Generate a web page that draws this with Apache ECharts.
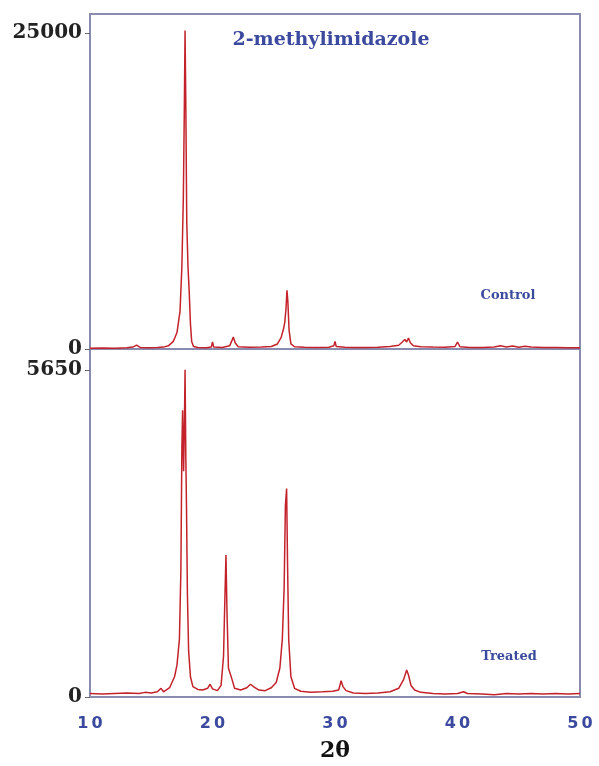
<!DOCTYPE html>
<html lang="en">

<head>
    <meta charset="UTF-8">
    <title>2-methylimidazole XRD</title>
    <script src="https://cdn.jsdelivr.net/npm/echarts@6/dist/echarts.min.js"></script>
    <style>
        body,
        html {
            background-color: #ffffff;
            width: 100%;
            height: 100%;
            margin: 0;
        }
    </style>
</head>

<body>
    <div id="chart" style="width: 599px; height: 766px;"></div>
    <script>
        // 2θ ticks and panel labels
        var xTicks = [10, 20, 30, 40, 50];
        var controlTicks = [0, 25000];
        var treatedTicks = [0, 5650];

        // Control pattern
        var controlX = [10, 11, 12, 13, 13.5, 13.8, 14.1, 14.8, 15.5, 16.0, 16.4, 16.8, 17.1, 17.35, 17.5, 17.62, 17.7, 17.76, 17.82, 17.9,
            18.0, 18.1, 18.2, 18.3, 18.45, 18.8, 19.5, 19.9, 20.0, 20.1, 20.8, 21.4, 21.6, 21.7, 21.85, 22.1, 23.0, 24.0, 24.8, 25.3,
            25.6, 25.8, 25.9, 26.0, 26.08, 26.15, 26.25, 26.4, 26.7, 27.5, 28.5, 29.5, 29.9, 30.0, 30.1, 30.8, 31.5, 32.5, 33.5, 34.5,
            35.2, 35.5, 35.7, 35.85, 36.0, 36.15, 36.4, 37.0, 38.0, 39.0, 39.8, 40.0, 40.2, 41.0, 42.0, 43.0, 43.5, 44.0, 44.5, 45.0,
            45.5, 46.0, 47.0, 48.0, 49.0, 50.0];
        var controlY = [60, 80, 60, 90, 150, 300, 120, 100, 120, 150, 250, 600, 1300, 3000, 6500, 12000, 19000, 25200, 19500, 10000,
            6500, 4500, 2000, 600, 200, 120, 100, 150, 550, 150, 120, 250, 700, 950, 500, 180, 130, 150, 200, 400,
            900, 1600, 2100, 3200, 4650, 3800, 1500, 400, 180, 130, 120, 140, 250, 600, 200, 130, 120, 110, 130, 200,
            300, 550, 750, 550, 870, 500, 250, 180, 150, 130, 200, 550, 180, 120, 110, 150, 250, 150, 230, 140,
            220, 150, 120, 110, 100, 90];

        // Treated pattern
        var treatedX = [10, 11, 12, 13, 14, 14.5, 15.0, 15.5, 15.8, 16.0, 16.5, 16.9, 17.1, 17.3, 17.42, 17.5, 17.56, 17.64, 17.7, 17.76,
            17.82, 17.88, 17.95, 18.05, 18.2, 18.4, 18.8, 19.2, 19.6, 19.8, 20.0, 20.4, 20.7, 20.9, 21.0, 21.1, 21.18, 21.3, 21.45, 21.6,
            21.8, 22.3, 22.8, 23.1, 23.4, 23.8, 24.3, 24.8, 25.2, 25.5, 25.7, 25.85, 25.95, 26.05, 26.12, 26.22, 26.4, 26.7, 27.2, 28.0,
            29.0, 29.8, 30.3, 30.5, 30.65, 30.9, 31.5, 32.5, 33.5, 34.5, 35.2, 35.6, 35.85, 36.0, 36.2, 36.5, 37.0, 38.0, 39.0, 40.0,
            40.5, 40.8, 42.0, 43.0, 44.0, 45.0, 46.0, 47.0, 48.0, 49.0, 50.0];
        var treatedY = [60, 50, 60, 70, 60, 80, 70, 90, 150, 90, 160, 350, 550, 1000, 2200, 4300, 4950, 3900, 4600, 5650,
            4200, 3230, 1800, 800, 350, 180, 130, 120, 150, 220, 140, 110, 200, 700, 1600, 2450, 1500, 500, 470, 300,
            150, 120, 160, 220, 170, 120, 110, 160, 250, 500, 1000, 1900, 3300, 3600, 2400, 1000, 350, 150, 100, 80,
            90, 100, 120, 280, 180, 110, 70, 60, 70, 90, 150, 300, 465, 380, 200, 120, 80, 60, 50, 60,
            90, 60, 50, 40, 60, 50, 60, 50, 60, 50, 60];

        function pairs(xs, ys) {
            return xs.map(function (x, i) { return [x, ys[i]]; });
        }

        var frameColor = '#8a8caf';
        var lineColor = '#c4222b';
        var blue = '#3b4a9e';

        function yAxisFor(gridIndex, max, ticks) {
            return {
                type: 'value',
                gridIndex: gridIndex,
                min: 0,
                max: max,
                axisLine: { show: false },
                splitLine: { show: false },
                axisTick: {
                    show: true,
                    customValues: ticks,
                    length: 5,
                    lineStyle: { color: '#666', width: 1 }
                },
                axisLabel: {
                    customValues: ticks,
                    margin: 8,
                    color: '#222',
                    fontFamily: 'DejaVu Serif',
                    fontWeight: 'bold',
                    fontSize: 20,
                    formatter: function (v) { return String(v); }
                }
            };
        }

        var option = {
            animation: false,
            grid: [
                { left: 90, top: 14, width: 490, height: 335, show: true, borderColor: frameColor, borderWidth: 2 },
                { left: 90, top: 349, width: 490, height: 348, show: true, borderColor: frameColor, borderWidth: 2 }
            ],
            xAxis: [
                {
                    type: 'value', gridIndex: 0, min: 10, max: 50,
                    axisLine: { show: false }, axisTick: { show: false },
                    axisLabel: { show: false }, splitLine: { show: false }
                },
                {
                    type: 'value', gridIndex: 1, min: 10, max: 50, interval: 10,
                    axisLine: { show: false }, axisTick: { show: false }, splitLine: { show: false },
                    axisLabel: {
                        margin: 19,
                        color: blue,
                        fontFamily: 'DejaVu Sans',
                        fontWeight: 'bold',
                        fontSize: 16,
                        formatter: function (v) {
                            return xTicks.indexOf(v) >= 0 ? String(v).split('').join('\u2009') : '';
                        }
                    },
                    name: '2θ',
                    nameLocation: 'middle',
                    nameGap: 43,
                    nameTextStyle: {
                        color: '#111',
                        fontFamily: 'DejaVu Serif',
                        fontWeight: 'bold',
                        fontSize: 22
                    }
                }
            ],
            yAxis: [
                yAxisFor(0, 26500, controlTicks),
                yAxisFor(1, 6010, treatedTicks)
            ],
            series: [
                {
                    name: 'Control',
                    type: 'line',
                    xAxisIndex: 0,
                    yAxisIndex: 0,
                    showSymbol: false,
                    lineStyle: { color: lineColor, width: 1.5 },
                    data: pairs(controlX, controlY)
                },
                {
                    name: 'Treated',
                    type: 'line',
                    xAxisIndex: 1,
                    yAxisIndex: 1,
                    showSymbol: false,
                    lineStyle: { color: lineColor, width: 1.5 },
                    data: pairs(treatedX, treatedY)
                }
            ],
            graphic: [
                {
                    type: 'text', x: 331, y: 40,
                    style: {
                        text: '2-methylimidazole', fill: blue, align: 'center', verticalAlign: 'middle',
                        font: 'bold 19px "DejaVu Serif"'
                    }
                },
                {
                    type: 'text', x: 508, y: 296,
                    style: {
                        text: 'Control', fill: blue, align: 'center', verticalAlign: 'middle',
                        font: 'bold 13px "DejaVu Serif"'
                    }
                },
                {
                    type: 'text', x: 509, y: 657,
                    style: {
                        text: 'Treated', fill: blue, align: 'center', verticalAlign: 'middle',
                        font: 'bold 13px "DejaVu Serif"'
                    }
                }
            ]
        };

        var myChart = echarts.init(document.getElementById('chart'));
        myChart.setOption(option);
    </script>
</body>

</html>
